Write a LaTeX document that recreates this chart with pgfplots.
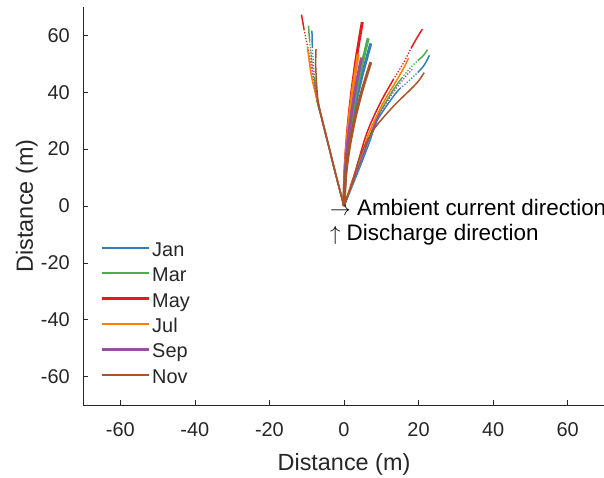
\documentclass[border=0pt]{standalone}
\usepackage{pgfplots}
\pgfplotsset{compat=1.18}
\usepackage{fontspec}
\setmainfont{Liberation Sans}
\definecolor{cJan}{HTML}{377EB8}
\definecolor{cMar}{HTML}{4DAF4A}
\definecolor{cMay}{HTML}{E41A1C}
\definecolor{cJul}{HTML}{FF7F00}
\definecolor{cSep}{HTML}{984EA3}
\definecolor{cNov}{HTML}{A65628}
\definecolor{axgray}{HTML}{262626}
\begin{document}
\begin{tikzpicture}[x=1bp,y=1bp]
\begin{axis}[
  at={(83bp,73bp)}, anchor=south west,
  width=522bp, height=398bp, scale only axis,
  xmin=-70, xmax=70, ymin=-70, ymax=70,
  axis x line*=bottom, axis y line*=left,
  axis line style={axgray, line width=0.6bp},
  tick align=inside, major tick length=5bp,
  tick style={axgray, line width=0.6bp},
  xtick={-60,-40,-20,0,20,40,60}, ytick={-60,-40,-20,0,20,40,60},
  xticklabels={-60,-40,-20,0,20,40,60},
  yticklabels={-60,-40,-20,0,20,40,60},
  ticklabel style={font=\fontsize{20}{24}\selectfont, text=axgray},
  xticklabel style={yshift=-14bp},
  yticklabel style={xshift=-9.8bp},
  xlabel={Distance (m)}, ylabel={Distance (m)},
  label style={font=\fontsize{23.5}{28}\selectfont, text=axgray},
  xlabel style={at={(axis description cs:0.5,0)}, anchor=base, yshift=-65.5bp},
  ylabel style={at={(axis description cs:-0.0958,0.5)}, anchor=base},
  clip=false,
  legend style={at={(axis cs:-65.3,-11.65)}, anchor=north west, draw=none, fill=none,
    font=\fontsize{20}{24}\selectfont, text=axgray, inner sep=0pt, row sep=0pt,
    column sep=2.1bp,
    nodes={inner sep=0pt, text height=17bp, text depth=8.4bp, anchor=base west}},
  legend image code/.code={\draw[#1, line width=2.4bp, solid] (0bp,8.6bp) -- (47bp,8.6bp);},
  mid/.style={line width=3bp, smooth},
  side/.style={line width=1.5bp, smooth, forget plot},
  dot/.style={line width=1.3bp, dash pattern=on 1.3bp off 1.7bp, smooth, forget plot},
]
% ---------- Jan ----------
\addplot[cJan, mid] coordinates {(0,0)(0.40,11.4)(1.38,22.9)(2.87,34.3)(4.82,45.8)(7.2,57.2)};
\addlegendentry{Jan}
\addplot[cJan, side] coordinates {(0,0)(-2,10)(-4,20.5)(-6,31)(-7.2,37)(-7.9,45)};
\addplot[cJan, dot] coordinates {(-7.9,45)(-8.3,52)(-8.5,56)};
\addplot[cJan, side] coordinates {(-8.5,56)(-8.6,61.7)};
\addplot[cJan, side] coordinates {(0,0)(3.6,11.5)(6.7,22)(9,30.3)(13.2,38.5)(15,41.3)};
\addplot[cJan, dot] coordinates {(15,41.3)(17.7,44.4)(19.8,47)};
\addplot[cJan, side] coordinates {(19.8,47)(21.5,49.5)(22.9,53)};
% ---------- Mar ----------
\addplot[cMar, mid] coordinates {(0,0)(0.36,11.8)(1.25,23.6)(2.59,35.4)(4.35,47.2)(6.5,59)};
\addlegendentry{Mar}
\addplot[cMar, side] coordinates {(0,0)(-2,10)(-4,20.5)(-6,31)(-7.2,37)(-7.9,45)};
\addplot[cMar, dot] coordinates {(-7.9,45)(-8.7,52)(-9.2,58)};
\addplot[cMar, side] coordinates {(-9.2,58)(-9.4,61)(-9.5,63.4)};
\addplot[cMar, side] coordinates {(0,0)(3.5,12)(6.5,23)(9,31.4)(13.2,40.8)(15.5,45)};
\addplot[cMar, dot] coordinates {(15.5,45)(17.7,48.5)(19.8,51.2)};
\addplot[cMar, side] coordinates {(19.8,51.2)(21.2,52.8)(22.4,55)};
% ---------- May ----------
\addplot[cMay, mid] coordinates {(0,0)(0.27,12.9)(0.94,25.9)(1.96,38.8)(3.28,51.8)(4.9,64.7)};
\addlegendentry{May}
\addplot[cMay, side] coordinates {(0,0)(-2,10)(-4,20.5)(-6,31)(-7.6,40)};
\addplot[cMay, dot] coordinates {(-7.6,40)(-9.1,51.4)(-10.7,62)};
\addplot[cMay, side] coordinates {(-10.7,62)(-11.1,65)(-11.4,67.3)};
\addplot[cMay, side] coordinates {(0,0)(3,12)(6.1,25.6)(9.7,36.2)(13.2,44.4)};
\addplot[cMay, dot] coordinates {(13.2,44.4)(15.9,50.2)(18,55.5)};
\addplot[cMay, side] coordinates {(18,55.5)(19.5,59)(21,62.2)};
% ---------- Jul ----------
\addplot[cJul, mid] coordinates {(0,0)(0.21,10.7)(0.73,21.4)(1.52,32)(2.54,42.7)(3.8,53.4)};
\addlegendentry{Jul}
\addplot[cJul, side] coordinates {(0,0)(-2,10)(-4,20.5)(-6,31)(-7.2,37)(-8.7,45.5)(-9.6,53.7)(-9.8,56)};
\addplot[cJul, side] coordinates {(0,0)(3.2,12)(6.5,25)(10.2,35.5)(13.8,43.5)(16,48.5)(17.3,52)};
% ---------- Sep ----------
\addplot[cSep, mid] coordinates {(0,0)(0.26,10.4)(0.9,20.9)(1.88,31.3)(3.14,41.8)(4.7,52.2)};
\addlegendentry{Sep}
\addplot[cSep, side] coordinates {(0,0)(-2,10)(-4,20.5)(-6,31)(-7.2,37)};
\addplot[cSep, dot] coordinates {(-7.2,37)(-8.4,47)(-8.9,55)};
\addplot[cSep, side] coordinates {(0,0)(3.4,12)(6.8,24)(9.5,32.5)};
\addplot[cSep, dot] coordinates {(9.5,32.5)(13.5,40.5)(16.5,45.5)(18.6,48.5)};
% ---------- Nov ----------
\addplot[cNov, mid] coordinates {(0,0)(0.4,10.1)(1.38,20.2)(2.87,30.4)(4.82,40.5)(7.2,50.6)};
\addlegendentry{Nov}
\addplot[cNov, side] coordinates {(0,0)(-2,10)(-4,20.5)(-6,31)(-7,37.5)(-7.4,44)(-7.6,50)(-7.5,55.2)};
\addplot[cNov, side] coordinates {(0,0)(2.2,8)(4.3,17.4)(7.9,26.8)(13.2,35)(17.7,40.8)(20,44)(21.5,46.9)};
% ---------- annotations ----------
\node[anchor=base west, inner sep=0pt, font=\fontsize{22.5}{27}\selectfont, text=black]
  at (axis cs:-3.76,-3.2) {$\rightarrow$ Ambient current direction};
\node[anchor=base west, inner sep=0pt, font=\fontsize{22.5}{27}\selectfont, text=black]
  at (axis cs:-3.76,-12.0) {$\uparrow$ Discharge direction};
\end{axis}
\pgfresetboundingbox
\useasboundingbox (0,0) rectangle (604bp,478bp);
\end{tikzpicture}
\end{document}
